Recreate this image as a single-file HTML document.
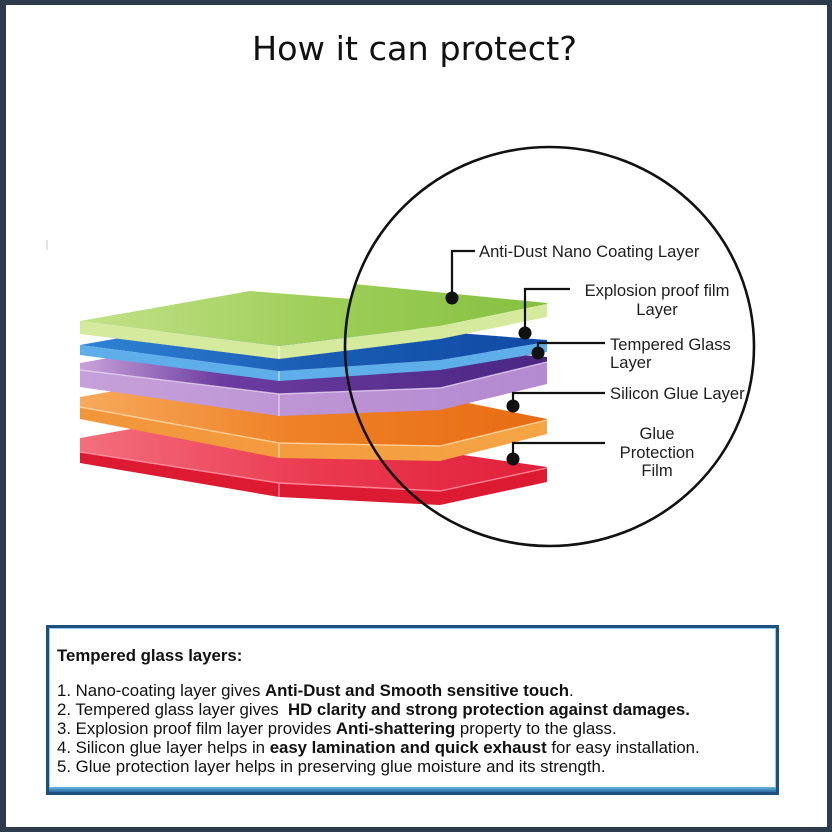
<!DOCTYPE html>
<html>
<head>
<meta charset="utf-8">
<style>
  html,body{margin:0;padding:0;background:#fff;}
  svg{display:block;}
  .lbl{font-family:"Liberation Sans",Arial,sans-serif;font-size:16.6px;fill:#1e1e1e;}
  .bx{font-family:"Liberation Sans",Arial,sans-serif;font-size:16.8px;fill:#111;white-space:pre;}
  .b{font-weight:bold;}
</style>
</head>
<body>
<svg width="832" height="832" viewBox="0 0 832 832" xmlns="http://www.w3.org/2000/svg">
  <defs>
    <linearGradient id="gTop" gradientUnits="userSpaceOnUse" x1="80" y1="0" x2="550" y2="0">
      <stop offset="0" stop-color="#c3e189"/>
      <stop offset="0.5" stop-color="#9fcf5a"/>
      <stop offset="1" stop-color="#84c040"/>
    </linearGradient>
    <linearGradient id="bTop" gradientUnits="userSpaceOnUse" x1="80" y1="0" x2="550" y2="0">
      <stop offset="0" stop-color="#2f84d4"/>
      <stop offset="0.5" stop-color="#1a5cb4"/>
      <stop offset="1" stop-color="#0f4aa3"/>
    </linearGradient>
    <linearGradient id="pTop" gradientUnits="userSpaceOnUse" x1="80" y1="0" x2="550" y2="0">
      <stop offset="0" stop-color="#c9a3da"/>
      <stop offset="0.3" stop-color="#6c3ca0"/>
      <stop offset="1" stop-color="#4a2682"/>
    </linearGradient>
    <linearGradient id="pFront" gradientUnits="userSpaceOnUse" x1="80" y1="0" x2="550" y2="0">
      <stop offset="0" stop-color="#c6a0da"/>
      <stop offset="1" stop-color="#b389cf"/>
    </linearGradient>
    <linearGradient id="oTop" gradientUnits="userSpaceOnUse" x1="80" y1="0" x2="550" y2="0">
      <stop offset="0" stop-color="#f7aa5c"/>
      <stop offset="0.45" stop-color="#ee8126"/>
      <stop offset="1" stop-color="#e86c14"/>
    </linearGradient>
    <linearGradient id="oFront" gradientUnits="userSpaceOnUse" x1="80" y1="0" x2="550" y2="0">
      <stop offset="0" stop-color="#f2953a"/>
      <stop offset="1" stop-color="#f5a545"/>
    </linearGradient>
    <linearGradient id="rTop" gradientUnits="userSpaceOnUse" x1="80" y1="0" x2="550" y2="0">
      <stop offset="0" stop-color="#f36f7e"/>
      <stop offset="0.5" stop-color="#ea3a50"/>
      <stop offset="1" stop-color="#e1203a"/>
    </linearGradient>
    <linearGradient id="boxBot" x1="0" y1="0" x2="0" y2="1">
      <stop offset="0" stop-color="#6cb4e2"/>
      <stop offset="1" stop-color="#2a6aa0"/>
    </linearGradient>
  </defs>

  <!-- outer frame -->
  <rect x="0" y="0" width="832" height="832" fill="#2e3b4c"/>
  <rect x="6" y="5" width="821" height="822" fill="#ffffff"/>
  <line x1="47" y1="240" x2="47" y2="250" stroke="#c8c8c8" stroke-width="1"/>

  <!-- title -->
  <text x="414.5" y="60" text-anchor="middle" font-family="'DejaVu Sans','Liberation Sans',sans-serif" font-size="33" fill="#111" textLength="325" lengthAdjust="spacingAndGlyphs">How it can protect?</text>

  <!-- RED plate -->
  <path d="M80,438 L250,408 L463,455 L547,467 L547,468 L440,491 L279,483 L80,452 Z" fill="url(#rTop)"/>
  <path d="M80,452 L279,483 L440,491 L547,468 L547,482 L440,505 L279,497 L80,463 Z" fill="#dc1b33"/>
  <polyline points="80,452 279,483 440,491 547,468" fill="none" stroke="#ff9aa8" stroke-width="1.4" opacity="0.8"/>
  <line x1="279" y1="483" x2="279" y2="497" stroke="#ff9aa8" stroke-width="1.4" opacity="0.8"/>

  <!-- ORANGE plate -->
  <path d="M80,397 L250,367 L463,402 L547,419 L547,420 L440,446 L279,443 L80,407 Z" fill="url(#oTop)"/>
  <path d="M80,407 L279,443 L440,446 L547,420 L547,434 L440,461 L279,458 L80,419 Z" fill="url(#oFront)"/>
  <polyline points="80,407 279,443 440,446 547,420" fill="none" stroke="#ffd7a6" stroke-width="1.4" opacity="0.85"/>
  <line x1="279" y1="443" x2="279" y2="458" stroke="#ffd7a6" stroke-width="1.4" opacity="0.85"/>

  <!-- PURPLE plate -->
  <path d="M80,363 L250,333 L547,357 L547,362 L440,388 L279,394 L80,370 Z" fill="url(#pTop)"/>
  <path d="M80,370 L279,394 L440,388 L547,362 L547,384 L440,410 L279,416 L80,387 Z" fill="url(#pFront)"/>
  <polyline points="80,370 279,394 440,388 547,362" fill="none" stroke="#e6d0f0" stroke-width="1.4" opacity="0.8"/>
  <line x1="279" y1="394" x2="279" y2="416" stroke="#eadaf2" stroke-width="1.4" opacity="0.8"/>

  <!-- BLUE plate -->
  <path d="M80,345 L250,315 L470,334 L547,340 L547,342 L440,360 L279,371 Z" fill="url(#bTop)"/>
  <path d="M80,345 L279,371 L440,360 L547,342 L547,352 L440,370 L279,381 L80,355 Z" fill="#5eafe9"/>
  <line x1="279" y1="371" x2="279" y2="381" stroke="#c8e6fb" stroke-width="1.4" opacity="0.8"/>

  <!-- GREEN plate -->
  <path d="M80,321 L250,291 L352,299 L354,284 L547,303 L547,304 L440,326 L279,346 Z" fill="url(#gTop)"/>
  <path d="M80,321 L279,346 L440,326 L547,304 L547,317 L440,339 L279,359 L80,334 Z" fill="#d6ea9e"/>
  <line x1="279" y1="346" x2="279" y2="359" stroke="#f1f8d8" stroke-width="1.4" opacity="0.9"/>

  <!-- magnifier circle -->
  <ellipse cx="549.5" cy="346.5" rx="204.5" ry="199.5" fill="none" stroke="#111" stroke-width="2.6"/>

  <!-- connectors -->
  <g stroke="#111" stroke-width="2.2" fill="none">
    <polyline points="452,298 452,251 475,251"/>
    <polyline points="525,333 525,289 570,289"/>
    <polyline points="538,353 538,343 605,343"/>
    <polyline points="513,406 513,393 605,393"/>
    <polyline points="513,459 513,443 605,443"/>
  </g>
  <g fill="#111">
    <circle cx="452" cy="298" r="6.5"/>
    <circle cx="525" cy="333" r="6.5"/>
    <circle cx="538" cy="353" r="6.5"/>
    <circle cx="513" cy="406" r="6.5"/>
    <circle cx="513" cy="459" r="6.5"/>
  </g>

  <!-- labels -->
  <text class="lbl" x="479" y="257">Anti-Dust Nano Coating Layer</text>
  <text class="lbl" x="657" y="296" text-anchor="middle">Explosion proof film</text>
  <text class="lbl" x="657" y="315" text-anchor="middle">Layer</text>
  <text class="lbl" x="610" y="350">Tempered Glass</text>
  <text class="lbl" x="610" y="368">Layer</text>
  <text class="lbl" x="610" y="399">Silicon Glue Layer</text>
  <text class="lbl" x="657" y="439" text-anchor="middle">Glue</text>
  <text class="lbl" x="657" y="458" text-anchor="middle">Protection</text>
  <text class="lbl" x="657" y="476" text-anchor="middle">Film</text>

  <!-- info box -->
  <rect x="46" y="625" width="733" height="170" fill="#1f4f7d"/>
  <rect x="49" y="628" width="727" height="161" fill="#8fcdee"/>
  <rect x="50" y="629" width="725" height="158" fill="#ffffff"/>
  <rect x="49" y="787" width="727" height="5" fill="url(#boxBot)"/>

  <text class="bx b" x="57" y="661">Tempered glass layers:</text>
  <text class="bx" x="57" y="696">1. Nano-coating layer gives <tspan class="b">Anti-Dust and Smooth sensitive touch</tspan>.</text>
  <text class="bx" x="57" y="715">2. Tempered glass layer gives  <tspan class="b">HD clarity and strong protection against damages.</tspan></text>
  <text class="bx" x="57" y="734">3. Explosion proof film layer provides <tspan class="b">Anti-shattering</tspan> property to the glass.</text>
  <text class="bx" x="57" y="753">4. Silicon glue layer helps in <tspan class="b">easy lamination and quick exhaust</tspan> for easy installation.</text>
  <text class="bx" x="57" y="772">5. Glue protection layer helps in preserving glue moisture and its strength.</text>
</svg>
</body>
</html>
